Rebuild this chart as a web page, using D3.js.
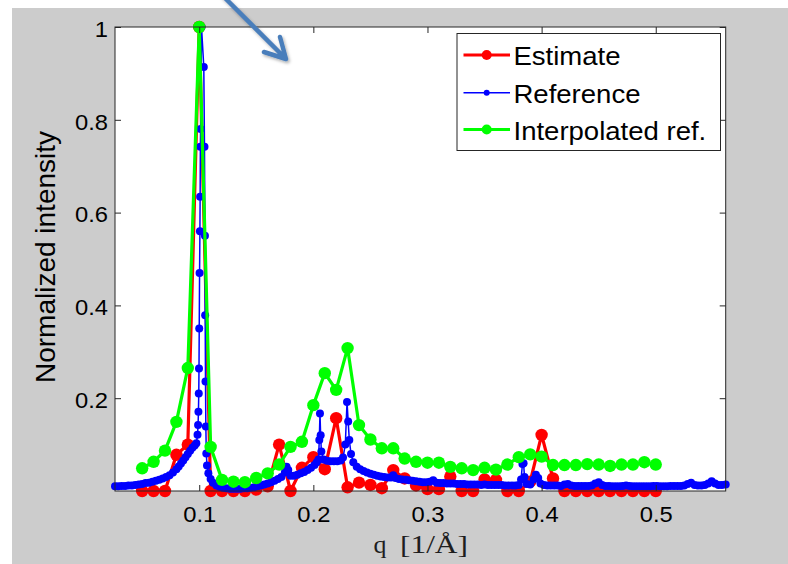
<!DOCTYPE html>
<html>
<head>
<meta charset="utf-8">
<script src="https://cdn.jsdelivr.net/npm/d3@7"></script>
<style>
  html, body { margin: 0; padding: 0; background: #ffffff; }
  svg { display: block; }
</style>
</head>
<body>
<svg id="chart" width="788" height="564"></svg>
<script>
// Scattering vector grid shared by the estimate and the interpolated reference
const qSampled = [0.05, 0.06, 0.07, 0.08, 0.09, 0.10, 0.11, 0.12, 0.13, 0.14,
                  0.15, 0.16, 0.17, 0.18, 0.19, 0.20, 0.21, 0.22, 0.23, 0.24,
                  0.25, 0.26, 0.27, 0.28, 0.29, 0.30, 0.31, 0.32, 0.33, 0.34,
                  0.35, 0.36, 0.37, 0.38, 0.39, 0.40, 0.41, 0.42, 0.43, 0.44,
                  0.45, 0.46, 0.47, 0.48, 0.49, 0.50];

const estimate = [0.000, 0.000, 0.000, 0.078, 0.100, 1.000, 0.000, 0.000, 0.000, 0.000,
                  0.003, 0.010, 0.100, 0.000, 0.050, 0.073, 0.047, 0.157, 0.008, 0.018,
                  0.013, 0.006, 0.045, 0.027, 0.012, 0.004, 0.004, 0.031, 0.000, 0.000,
                  0.025, 0.024, 0.000, 0.000, 0.020, 0.121, 0.027, 0.000, 0.000, 0.000,
                  0.000, 0.000, 0.000, 0.000, 0.000, 0.000];

const interpolated = [0.049, 0.063, 0.087, 0.149, 0.265, 1.000, 0.095, 0.024, 0.020, 0.019,
                      0.028, 0.038, 0.057, 0.095, 0.106, 0.185, 0.254, 0.218, 0.308, 0.142,
                      0.111, 0.092, 0.092, 0.070, 0.063, 0.061, 0.061, 0.052, 0.049, 0.045,
                      0.050, 0.046, 0.057, 0.073, 0.079, 0.074, 0.056, 0.056, 0.056, 0.058,
                      0.057, 0.054, 0.057, 0.057, 0.062, 0.057];

// Finely sampled reference profile: [q, intensity]
const referencePoints = [
  [0.0262, 0.010], [0.029, 0.010], [0.032, 0.011], [0.035, 0.011], [0.038, 0.012],
  [0.041, 0.012], [0.044, 0.013], [0.047, 0.014], [0.050, 0.015], [0.053, 0.017],
  [0.056, 0.018], [0.059, 0.020], [0.062, 0.022], [0.065, 0.024], [0.068, 0.027],
  [0.071, 0.030], [0.074, 0.034], [0.077, 0.040], [0.080, 0.047], [0.082, 0.053],
  [0.084, 0.059], [0.086, 0.066], [0.088, 0.073], [0.090, 0.080], [0.092, 0.087],
  [0.094, 0.093], [0.096, 0.098], [0.0975, 0.103], [0.0985, 0.121], [0.0990, 0.142],
  [0.0993, 0.171], [0.0996, 0.210], [0.0998, 0.264], [0.1000, 0.350], [0.1003, 0.470],
  [0.1006, 0.560], [0.1008, 0.634], [0.1010, 0.742], [0.1012, 0.780], [0.1020, 1.000],
  [0.1040, 0.914], [0.1046, 0.742], [0.1050, 0.550], [0.1052, 0.379], [0.1055, 0.236],
  [0.1058, 0.139], [0.1062, 0.081], [0.1068, 0.055], [0.108, 0.038], [0.110, 0.026],
  [0.112, 0.018], [0.115, 0.012], [0.118, 0.009], [0.121, 0.007], [0.124, 0.006],
  [0.127, 0.005], [0.130, 0.005], [0.133, 0.005], [0.136, 0.005], [0.139, 0.006],
  [0.142, 0.006], [0.145, 0.007], [0.148, 0.008], [0.151, 0.010], [0.154, 0.012],
  [0.157, 0.014], [0.160, 0.016], [0.163, 0.019], [0.166, 0.022], [0.169, 0.026],
  [0.172, 0.030], [0.175, 0.040], [0.1765, 0.052], [0.178, 0.045], [0.180, 0.033],
  [0.183, 0.033], [0.186, 0.035], [0.189, 0.038], [0.192, 0.041], [0.195, 0.045],
  [0.198, 0.050], [0.201, 0.056], [0.203, 0.062], [0.2045, 0.068], [0.2052, 0.110],
  [0.2058, 0.167], [0.2064, 0.120], [0.207, 0.085], [0.209, 0.068], [0.212, 0.065],
  [0.215, 0.064], [0.218, 0.064], [0.221, 0.064], [0.224, 0.066], [0.226, 0.072],
  [0.228, 0.100], [0.2295, 0.192], [0.2305, 0.150], [0.2315, 0.110], [0.233, 0.080],
  [0.235, 0.062], [0.238, 0.052], [0.241, 0.047], [0.244, 0.043], [0.247, 0.040],
  [0.250, 0.037], [0.253, 0.035], [0.256, 0.033], [0.259, 0.031], [0.262, 0.030],
  [0.265, 0.029], [0.268, 0.029], [0.270, 0.034], [0.272, 0.028], [0.275, 0.026],
  [0.278, 0.025], [0.281, 0.024], [0.284, 0.023], [0.287, 0.022], [0.290, 0.021],
  [0.293, 0.020], [0.296, 0.019], [0.299, 0.019], [0.302, 0.020], [0.305, 0.023],
  [0.308, 0.018], [0.311, 0.017], [0.314, 0.017], [0.317, 0.016], [0.320, 0.016],
  [0.323, 0.016], [0.326, 0.015], [0.329, 0.015], [0.332, 0.015], [0.335, 0.014],
  [0.338, 0.014], [0.341, 0.014], [0.344, 0.014], [0.347, 0.013], [0.350, 0.014],
  [0.353, 0.013], [0.356, 0.013], [0.359, 0.013], [0.362, 0.013], [0.365, 0.013],
  [0.368, 0.012], [0.371, 0.012], [0.374, 0.012], [0.377, 0.012], [0.380, 0.013],
  [0.382, 0.025], [0.3832, 0.058], [0.3842, 0.060], [0.385, 0.030], [0.387, 0.015],
  [0.390, 0.014], [0.393, 0.025], [0.395, 0.035], [0.397, 0.028], [0.399, 0.016],
  [0.402, 0.013], [0.405, 0.012], [0.408, 0.012], [0.411, 0.012], [0.414, 0.012],
  [0.417, 0.011], [0.420, 0.014], [0.423, 0.015], [0.426, 0.012], [0.429, 0.011],
  [0.432, 0.011], [0.435, 0.011], [0.438, 0.011], [0.441, 0.011], [0.444, 0.012],
  [0.447, 0.016], [0.450, 0.019], [0.453, 0.013], [0.456, 0.011], [0.459, 0.011],
  [0.462, 0.010], [0.465, 0.010], [0.468, 0.010], [0.471, 0.011], [0.474, 0.012],
  [0.477, 0.011], [0.480, 0.010], [0.483, 0.010], [0.486, 0.010], [0.489, 0.010],
  [0.492, 0.010], [0.495, 0.010], [0.498, 0.011], [0.501, 0.011], [0.504, 0.010],
  [0.507, 0.010], [0.510, 0.010], [0.513, 0.011], [0.516, 0.011], [0.519, 0.011],
  [0.522, 0.011], [0.525, 0.012], [0.528, 0.015], [0.531, 0.018], [0.534, 0.013],
  [0.537, 0.012], [0.540, 0.012], [0.543, 0.013], [0.546, 0.016], [0.549, 0.021],
  [0.552, 0.016], [0.555, 0.013], [0.558, 0.013], [0.5613, 0.014]
];

const xTicks = [0.1, 0.2, 0.3, 0.4, 0.5];
const yTicks = [0.2, 0.4, 0.6, 0.8, 1];
const seriesNames = ["Estimate", "Reference", "Interpolated ref."];
const xLabel = "q";
const xUnit = "[1/Å]";
const yLabel = "Normalized intensity";

// ---------------------------------------------------------------------------
const svg = d3.select("#chart");
const plot = { left: 115, right: 725.7, top: 27, bottom: 491 };
const sansFont = "'Liberation Sans', Arial, Helvetica, sans-serif";
const stretch = 1.08;   // horizontal glyph stretch of the figure text

const colors = { est: "#ff0000", ref: "#0000ff", interp: "#00ff00" };

const x = d3.scaleLinear().domain([0.0262, 0.5613]).range([plot.left, plot.right]);
const y = d3.scaleLinear().domain([0, 1]).range([plot.bottom, plot.top]);

// figure background
svg.append("rect").attr("x", 12).attr("y", 8).attr("width", 776).attr("height", 556)
  .attr("fill", "#cccccc");

// axes background
svg.append("rect")
  .attr("x", plot.left).attr("y", plot.top)
  .attr("width", plot.right - plot.left).attr("height", plot.bottom - plot.top)
  .attr("fill", "#ffffff");

// ---- data ----
const estData = qSampled.map((q, i) => [q, estimate[i]]);
const interpData = qSampled.map((q, i) => [q, interpolated[i]]);
const line = d3.line().x(d => x(d[0])).y(d => y(d[1]));

function drawSeries(data, color, width, radius) {
  const g = svg.append("g");
  g.append("path").datum(data)
    .attr("d", line)
    .attr("fill", "none")
    .attr("stroke", color)
    .attr("stroke-width", width)
    .attr("stroke-linejoin", "round");
  g.selectAll("circle").data(data).join("circle")
    .attr("cx", d => x(d[0])).attr("cy", d => y(d[1]))
    .attr("r", radius).attr("fill", color);
}

// plotted in legend order: estimate, reference, interpolated reference on top
drawSeries(estData, colors.est, 3.2, 6.2);
drawSeries(referencePoints, colors.ref, 1.5, 4);
drawSeries(interpData, colors.interp, 3.2, 6.2);

// ---- axes ----
const fmt = d3.format("");
const axisColor = "#262626";

function styleAxis(g) {
  g.select(".domain").remove();
  g.selectAll(".tick line").attr("stroke", axisColor).attr("stroke-width", 1);
  g.selectAll(".tick text")
    .attr("fill", "#000")
    .style("font-family", sansFont)
    .style("font-size", "22px");
}

svg.append("g")
  .attr("transform", `translate(0,${plot.bottom})`)
  .call(d3.axisBottom(x).tickValues(xTicks).tickFormat(fmt)
        .tickSize(-6).tickSizeOuter(0).tickPadding(15.5))
  .call(styleAxis)
  .call(g => g.selectAll(".tick text").attr("transform", `scale(${stretch},1)`));

svg.append("g")
  .attr("transform", `translate(0,${plot.top})`)
  .call(d3.axisTop(x).tickValues(xTicks).tickFormat("").tickSize(-6).tickSizeOuter(0))
  .call(styleAxis);

svg.append("g")
  .attr("transform", `translate(${plot.left},0)`)
  .call(d3.axisLeft(y).tickValues(yTicks).tickFormat(fmt)
        .tickSize(-6).tickSizeOuter(0).tickPadding(6.5))
  .call(styleAxis)
  .call(g => g.selectAll(".tick text").attr("dy", "0.42em")
                .attr("transform", `scale(${stretch},1)`));

svg.append("g")
  .attr("transform", `translate(${plot.right},0)`)
  .call(d3.axisRight(y).tickValues(yTicks).tickFormat("").tickSize(-6).tickSizeOuter(0))
  .call(styleAxis);

// axes box
svg.append("rect")
  .attr("x", plot.left).attr("y", plot.top)
  .attr("width", plot.right - plot.left).attr("height", plot.bottom - plot.top)
  .attr("fill", "none").attr("stroke", axisColor).attr("stroke-width", 1);

// ---- axis labels ----
svg.append("text")
  .attr("transform", `translate(55,${(plot.top + plot.bottom) / 2 - 2}) rotate(-90)`)
  .attr("text-anchor", "middle")
  .style("font-family", sansFont).style("font-size", "28px")
  .attr("fill", "#000")
  .text(yLabel);

const serif = "'Liberation Serif', 'DejaVu Serif', 'Times New Roman', serif";
svg.append("text")
  .attr("x", 373.5).attr("y", 553)
  .style("font-family", serif).style("font-size", "26px")
  .attr("fill", "#1e1e1e")
  .text(xLabel);
svg.append("text")
  .attr("x", 400).attr("y", 553)
  .attr("textLength", 68).attr("lengthAdjust", "spacingAndGlyphs")
  .style("font-family", serif).style("font-size", "26px")
  .attr("fill", "#1e1e1e")
  .text(xUnit);

// ---- legend ----
const legend = svg.append("g");
legend.append("rect")
  .attr("x", 457).attr("y", 33.5).attr("width", 263.5).attr("height", 117)
  .attr("fill", "#ffffff").attr("stroke", axisColor).attr("stroke-width", 1);

const legendRows = [
  { name: seriesNames[0], color: colors.est, width: 3.2, r: 5, cy: 55, base: 65 },
  { name: seriesNames[1], color: colors.ref, width: 1.5, r: 3, cy: 92.7, base: 103.3 },
  { name: seriesNames[2], color: colors.interp, width: 3.2, r: 5, cy: 129.5, base: 140 }
];
legendRows.forEach(row => {
  legend.append("line")
    .attr("x1", 463.5).attr("x2", 510).attr("y1", row.cy).attr("y2", row.cy)
    .attr("stroke", row.color).attr("stroke-width", row.width);
  legend.append("circle")
    .attr("cx", 486.7).attr("cy", row.cy).attr("r", row.r).attr("fill", row.color);
  legend.append("text")
    .attr("transform", `translate(513.5,${row.base}) scale(${stretch},1)`)
    .style("font-family", sansFont).style("font-size", "25.5px")
    .attr("fill", "#000")
    .text(row.name);
});

// ---- annotation arrow ----
const defs = svg.append("defs");
const shadow = defs.append("filter").attr("id", "arrowShadow")
  .attr("x", "-30%").attr("y", "-30%").attr("width", "160%").attr("height", "160%");
shadow.append("feDropShadow")
  .attr("dx", 1.5).attr("dy", 2).attr("stdDeviation", 1.5)
  .attr("flood-color", "#000").attr("flood-opacity", 0.3);

svg.append("path")
  .attr("d", "M223,-4 L286,59 M264,52 L286,59 L280,37")
  .attr("fill", "none")
  .attr("stroke", "#4a7ebb")
  .attr("stroke-width", 4.5)
  .attr("stroke-linecap", "round")
  .attr("stroke-linejoin", "round")
  .attr("filter", "url(#arrowShadow)");
</script>
</body>
</html>
